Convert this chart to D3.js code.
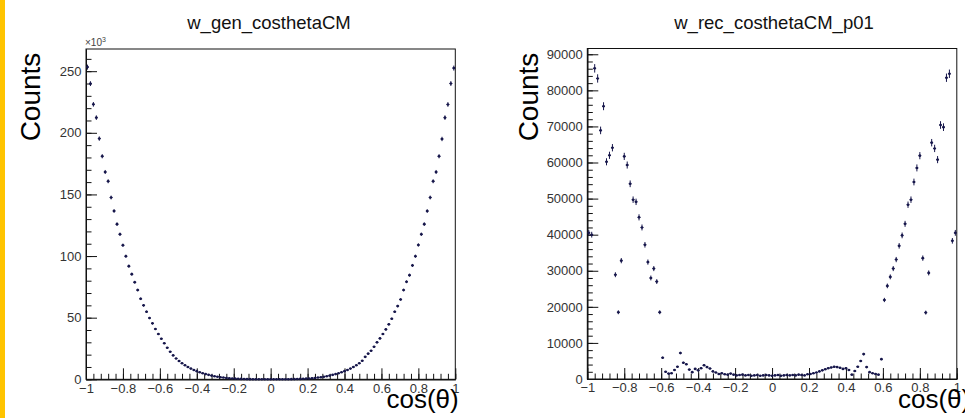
<!DOCTYPE html>
<html><head><meta charset="utf-8">
<script src="https://cdn.jsdelivr.net/npm/d3@7"></script>
<style>
body{margin:0;background:#fff}
svg{display:block}
text{font-family:"Liberation Sans",Arial,Helvetica,sans-serif}
</style>
</head><body>
<svg id="c" width="965" height="418"></svg>
<script>
// ---------------- data ----------------
const binCount = 125;
const xRange = [-1, 1];
const xTickValues = [-1, -0.8, -0.6, -0.4, -0.2, 0, 0.2, 0.4, 0.6, 0.8, 1];
const titles = ["w_gen_costhetaCM", "w_rec_costhetaCM_p01"];
const yAxisTitle = "Counts";
const xAxisTitle = "cos(θ)";

// generated distribution, in units of 10^3 counts
const genValues = [
  253.3, 239.9, 223.1, 212.3, 195.3, 181.0, 168.2, 160.7, 147.5, 136.6,
  125.9, 117.7, 108.8, 99.9, 91.8, 85.3, 78.8, 72.4, 65.3, 60.0,
  54.8, 49.7, 45.4, 40.8, 36.7, 32.9, 29.2, 25.6, 22.4, 19.4,
  16.9, 14.8, 13.0, 11.4, 10.0, 8.7, 7.6, 6.6, 5.7, 4.9,
  4.2, 3.6, 3.0, 2.5, 2.1, 1.7, 1.4, 1.1, 0.9, 0.7,
  0.55, 0.43, 0.33, 0.25, 0.18, 0.13, 0.09, 0.06, 0.04, 0.03,
  0.02, 0.01, 0.01, 0.01, 0.02, 0.03, 0.04, 0.06, 0.09, 0.13,
  0.18, 0.25, 0.33, 0.43, 0.55, 0.7, 0.9, 1.1, 1.4, 1.7,
  2.1, 2.5, 3.0, 3.6, 4.2, 4.9, 5.7, 6.6, 7.6, 8.7,
  10.0, 11.4, 13.0, 15.0, 18.2, 20.8, 23.2, 26.4, 30.0, 33.2,
  36.7, 40.5, 44.6, 49.1, 54.8, 59.4, 64.8, 72.4, 79.1, 84.5,
  92.4, 99.9, 109.0, 117.7, 125.9, 136.5, 147.5, 160.7, 168.2, 181.0,
  195.0, 212.3, 223.0, 240.0, 252.5
];
const genYTicks = [0, 50, 100, 150, 200, 250];
const genYMax = 268;

// reconstructed distribution, counts
const recValues = [
  40500, 40000, 86100, 83300, 68900, 75600, 60200, 62000, 64100, 28900,
  18500, 32800, 61700, 59300, 54100, 49700, 49100, 44800, 42000, 37200,
  32400, 28000, 30600, 27000, 18500, 5900, 2000, 1500, 1600, 2500,
  3400, 7200, 4500, 4100, 2600, 1900, 2800, 2400, 3000, 3800,
  3300, 2900, 2100, 1800, 1400, 1600, 1300, 1200, 1500, 1200,
  1000, 1100, 1200, 1000, 1100, 900, 1000, 1100, 900, 1000,
  1100, 1000, 900, 1000, 1100, 900, 1000, 1100, 1000, 1100,
  1000, 1200, 1100, 1000, 1300, 1400, 1600, 1800, 2100, 2400,
  2700, 3000, 3200, 3400, 3300, 3100, 2800, 3000, 2500, 1200,
  2200, 3400, 5000, 6900, 3300, 1900, 1600, 1400, 1200, 5500,
  21900, 25800, 28300, 30600, 33100, 36900, 39800, 43000, 48300, 49700,
  54600, 58500, 61900, 33500, 18400, 29400, 65500, 63900, 60800, 70400,
  69800, 83500, 84600, 38300, 40500
];
const recYTicks = [0, 10000, 20000, 30000, 40000, 50000, 60000, 70000, 80000, 90000];
const recYMax = 91600;

// ---------------- drawing ----------------
const svg = d3.select("#c");
svg.append("rect").attr("x",0).attr("y",0).attr("width",965).attr("height",418).attr("fill","#fff");
svg.append("rect").attr("x",0).attr("y",0).attr("width",5).attr("height",418).attr("fill","#ffc400");

const markColor = "#16164a";
const labelColor = "#333";

function drawPanel(cfg) {
  const g = svg.append("g");
  const x = d3.scaleLinear().domain(xRange).range([cfg.x0, cfg.x1]);
  const y = d3.scaleLinear().domain([0, cfg.ymax]).range([cfg.y1, cfg.y0]);
  const bw = (xRange[1] - xRange[0]) / binCount;

  g.append("rect").attr("x", cfg.x0).attr("y", cfg.y0)
    .attr("width", cfg.x1 - cfg.x0).attr("height", cfg.y1 - cfg.y0)
    .attr("fill", "none").attr("stroke", "#111").attr("stroke-width", 1);

  g.append("g").attr("transform", `translate(0,${cfg.y1})`)
    .call(d3.axisBottom(x).tickValues(xTickValues).tickSize(-11).tickSizeOuter(0).tickPadding(4)
      .tickFormat(d => d3.format("")(d)));
  const xMinor = d3.range(-1, 1.0001, 0.04).map(v => +v.toFixed(2));
  g.append("g").attr("transform", `translate(0,${cfg.y1})`)
    .call(d3.axisBottom(x).tickValues(xMinor).tickSize(-5.5).tickSizeOuter(0).tickFormat(""));

  g.append("g").attr("transform", `translate(${cfg.x0},0)`)
    .call(d3.axisLeft(y).tickValues(cfg.yTicks).tickSize(-11).tickSizeOuter(0).tickPadding(4.5)
      .tickFormat(d => String(d)));
  const yMinor = d3.range(0, cfg.ymax, cfg.minorStep);
  g.append("g").attr("transform", `translate(${cfg.x0},0)`)
    .call(d3.axisLeft(y).tickValues(yMinor).tickSize(-5.5).tickSizeOuter(0).tickFormat(""));

  g.selectAll(".domain").attr("stroke", "#111");
  g.selectAll(".tick line").attr("stroke", "#111");
  g.selectAll(".tick text").attr("font-size", 13).attr("fill", labelColor)
    .attr("font-family", '"Liberation Sans",Arial,sans-serif');

  const pts = g.append("g");
  cfg.values.forEach((v, i) => {
    const lo = xRange[0] + i * bw, hi = lo + bw, c = lo + bw / 2;
    const e = cfg.err(v);
    const yv = y(v);
    pts.append("line").attr("x1", x(lo)).attr("x2", x(hi)).attr("y1", yv).attr("y2", yv)
      .attr("stroke", markColor).attr("stroke-width", 1);
    pts.append("line").attr("x1", x(c)).attr("x2", x(c))
      .attr("y1", y(Math.max(0, v - e))).attr("y2", y(v + e))
      .attr("stroke", markColor).attr("stroke-width", 1);
    pts.append("circle").attr("cx", x(c)).attr("cy", yv).attr("r", 1.3).attr("fill", markColor);
  });

  svg.append("text").attr("x", cfg.titleX).attr("y", 29).attr("text-anchor", "middle")
    .attr("font-size", 18.5).attr("fill", "#111").text(cfg.title);
  svg.append("text").attr("transform", `translate(${cfg.yTitleX},97) rotate(-90)`)
    .attr("text-anchor", "middle").attr("font-size", 28).attr("fill", "#000").text(yAxisTitle);
  svg.append("text").attr("x", cfg.xTitleX).attr("y", 408)
    .attr("font-size", 26).attr("fill", "#000").text(xAxisTitle);
}

drawPanel({
  x0: 86, x1: 455.3, y0: 49, y1: 379.3, ymax: genYMax, yTicks: genYTicks, minorStep: 10,
  values: genValues, err: v => 4 * Math.sqrt(v * 1000) / 1000,
  title: titles[0], titleX: 269, yTitleX: 40, xTitleX: 386.5
});
drawPanel({
  x0: 587.3, x1: 956.8, y0: 48.5, y1: 379, ymax: recYMax, yTicks: recYTicks, minorStep: 2000,
  values: recValues, err: v => 4 * Math.sqrt(v),
  title: titles[1], titleX: 774, yTitleX: 538, xTitleX: 898
});

const mult = svg.append("text").attr("x", 85).attr("y", 46).attr("font-size", 10).attr("fill", "#444");
mult.append("tspan").text("×10");
mult.append("tspan").attr("dy", -4).attr("font-size", 7).text("3");
</script>
</body></html>
